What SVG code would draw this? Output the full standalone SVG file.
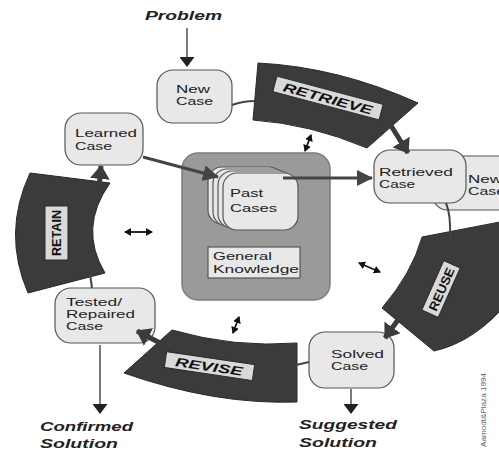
<svg xmlns="http://www.w3.org/2000/svg" width="499" height="450" viewBox="0 0 499 450">
<defs>
<style>
.band{fill:#3b3b3b;stroke:#2a2a2a;stroke-width:1}
.lbl{fill:#d9d9d9;stroke:#2a2a2a;stroke-width:1}
.lt{font-family:"Liberation Sans",Arial,sans-serif;font-weight:bold;font-size:12.5px;fill:#111}
.node{fill:#e8e8e8;stroke:#555;stroke-width:1.2}
.nt{font-family:"Liberation Sans",Arial,sans-serif;font-size:10.5px;fill:#222}
.out{font-family:"Liberation Sans",Arial,sans-serif;font-weight:bold;font-style:italic;font-size:13px;fill:#222}
.thin{stroke:#333;stroke-width:1.3;fill:none}
.thick{stroke:#444;stroke-width:3;fill:none}
.barr{stroke:#3b3b3b;stroke-width:5;fill:none}
.conn{stroke:#444;stroke-width:2;fill:none}
.dbl{stroke:#111;stroke-width:1.8;fill:none}
</style>
<marker id="oh" markerUnits="userSpaceOnUse" markerWidth="10" markerHeight="15" refX="9" refY="7.5" orient="auto"><path d="M0,0 L10,7.5 L0,15 z" fill="#222"/></marker>
<marker id="th" markerUnits="userSpaceOnUse" markerWidth="16" markerHeight="16" refX="15" refY="8" orient="auto"><path d="M0,0 L16,8 L0,16 z" fill="#444"/></marker>
<marker id="bh" markerUnits="userSpaceOnUse" markerWidth="14" markerHeight="20" refX="13" refY="10" orient="auto"><path d="M0,0 L14,10 L0,20 z" fill="#3b3b3b"/></marker>
<marker id="sh" markerUnits="userSpaceOnUse" markerWidth="7" markerHeight="8" refX="6" refY="4" orient="auto-start-reverse"><path d="M0,0 L7,4 L0,8 z" fill="#111"/></marker>
</defs>
<rect width="499" height="450" fill="#fff"/>

<g id="retrieve">
<path class="band" d="M258,63 Q338,67 418,103 L367,148 Q310,124 253,120 Z"/>
<rect class="lbl" x="273" y="90" width="110" height="16" transform="rotate(15 328 98)"/>
<text class="lt" font-style="italic" x="282" y="103" textLength="92" lengthAdjust="spacingAndGlyphs" transform="rotate(15 328 98)">RETRIEVE</text>
</g>
<g id="reuse">
<path class="band" d="M422,237 L510,220 L510,300 Q475,342 434,351 L382,308 Q412,273 422,237 Z"/>
<rect class="lbl" x="414" y="280" width="54" height="18" transform="rotate(-66 441 289)"/>
<text class="lt" x="418" y="294" textLength="46" lengthAdjust="spacingAndGlyphs" transform="rotate(-66 441 289)">REUSE</text>
</g>
<g id="revise">
<path class="band" d="M172,330 Q234,348 297,343 L297,402 Q215,405 124,373 Z"/>
<rect class="lbl" x="165" y="358" width="89" height="16" transform="rotate(8.4 209 366)"/>
<text class="lt" font-style="italic" x="175" y="371" textLength="68" lengthAdjust="spacingAndGlyphs" transform="rotate(8.4 209 366)">REVISE</text>
</g>
<g id="retain">
<path class="band" d="M30,173 L110,183 Q78,228 105,273 L28,293 Q2,233 30,173 Z"/>
<rect class="lbl" x="45" y="206" width="23" height="54"/>
<text class="lt" x="61" y="256" textLength="46" lengthAdjust="spacingAndGlyphs" transform="rotate(-90 61 256)">RETAIN</text>
</g>

<g id="center">
<rect x="182" y="153" width="148" height="147" rx="16" fill="#9a9a9a" stroke="#7c7c7c" stroke-width="1.5"/>
<rect class="node" x="208" y="167" width="75" height="57" rx="14"/>
<rect class="node" x="213" y="169" width="75" height="57" rx="14"/>
<rect class="node" x="218" y="171" width="75" height="57" rx="14"/>
<rect class="node" x="223" y="173" width="75" height="57" rx="14"/>
<text class="nt" x="230" y="197" textLength="33" lengthAdjust="spacingAndGlyphs">Past</text>
<text class="nt" x="230" y="212" textLength="47" lengthAdjust="spacingAndGlyphs">Cases</text>
<rect class="node" x="208" y="247" width="92" height="31"/>
<text class="nt" x="213" y="260" textLength="59" lengthAdjust="spacingAndGlyphs">General</text>
<text class="nt" x="213" y="273" textLength="86" lengthAdjust="spacingAndGlyphs">Knowledge</text>
</g>

<g id="new-case">
<rect class="node" x="157" y="70" width="75" height="53" rx="16"/>
<text class="nt" x="176" y="93" textLength="34" lengthAdjust="spacingAndGlyphs">New</text>
<text class="nt" x="176" y="105" textLength="37" lengthAdjust="spacingAndGlyphs">Case</text>
</g>
<g id="learned-case">
<rect class="node" x="65" y="113" width="78" height="52" rx="16"/>
<text class="nt" x="75" y="137" textLength="62" lengthAdjust="spacingAndGlyphs">Learned</text>
<text class="nt" x="75" y="150" textLength="37" lengthAdjust="spacingAndGlyphs">Case</text>
</g>
<g id="new-case-2">
<rect class="node" x="432" y="156" width="90" height="54" rx="16"/>
<text class="nt" x="468" y="183" textLength="34" lengthAdjust="spacingAndGlyphs">New</text>
<text class="nt" x="468" y="195" textLength="37" lengthAdjust="spacingAndGlyphs">Case</text>
</g>
<g id="retrieved-case">
<rect class="node" x="374" y="150" width="92" height="53" rx="16"/>
<text class="nt" x="379" y="176" textLength="74" lengthAdjust="spacingAndGlyphs">Retrieved</text>
<text class="nt" x="379" y="188" textLength="36" lengthAdjust="spacingAndGlyphs">Case</text>
</g>
<g id="tested-case">
<rect class="node" x="55" y="288" width="100" height="55" rx="16"/>
<text class="nt" x="66" y="306" textLength="56" lengthAdjust="spacingAndGlyphs">Tested/</text>
<text class="nt" x="66" y="318" textLength="69" lengthAdjust="spacingAndGlyphs">Repaired</text>
<text class="nt" x="66" y="330" textLength="37" lengthAdjust="spacingAndGlyphs">Case</text>
</g>
<g id="solved-case">
<rect class="node" x="309" y="332" width="85" height="56" rx="16"/>
<text class="nt" x="331" y="358" textLength="53" lengthAdjust="spacingAndGlyphs">Solved</text>
<text class="nt" x="331" y="370" textLength="37" lengthAdjust="spacingAndGlyphs">Case</text>
</g>

<g id="outputs">
<text class="out" x="145" y="20" textLength="77" lengthAdjust="spacingAndGlyphs">Problem</text>
<text class="out" x="40" y="431" textLength="93" lengthAdjust="spacingAndGlyphs">Confirmed</text>
<text class="out" x="40" y="448" textLength="78" lengthAdjust="spacingAndGlyphs">Solution</text>
<text class="out" x="299" y="429" textLength="98" lengthAdjust="spacingAndGlyphs">Suggested</text>
<text class="out" x="299" y="447" textLength="78" lengthAdjust="spacingAndGlyphs">Solution</text>
<text x="0" y="0" font-family="'Liberation Sans',Arial,sans-serif" font-size="7" fill="#666" textLength="74" lengthAdjust="spacingAndGlyphs" transform="translate(486 447) rotate(-90)">Aamodt&amp;Plaza 1994</text>
</g>

<g id="connectors">
<path class="thin" d="M187,28 L187,66" marker-end="url(#oh)"/>
<path class="thin" d="M100,345 L100,413" marker-end="url(#oh)"/>
<path class="thin" d="M351,389 L351,413" marker-end="url(#oh)"/>
<path class="thick" d="M143,157 L218,177" marker-end="url(#th)"/>
<path class="thick" d="M283,178 L372,178" marker-end="url(#th)"/>
<path class="conn" d="M232,105 Q243,101 255,101"/>
<path class="conn" d="M446,203 Q451,215 450,237"/>
<path class="conn" d="M309,362 L296,365"/>
<path class="conn" d="M92,288 L90,274"/>
<path class="barr" d="M390,124 L408,153" marker-end="url(#bh)"/>
<path class="barr" d="M400,317 L385,338" marker-end="url(#bh)"/>
<path class="barr" d="M162,344 L137,331" marker-end="url(#bh)"/>
<path class="barr" d="M99,188 L101,166" marker-end="url(#bh)"/>
<path class="dbl" d="M125,232 L152,232" marker-start="url(#sh)" marker-end="url(#sh)"/>
<path class="dbl" d="M311,135 L305,151" marker-start="url(#sh)" marker-end="url(#sh)"/>
<path class="dbl" d="M359,263 L380,272" marker-start="url(#sh)" marker-end="url(#sh)"/>
<path class="dbl" d="M239,317 L233,333" marker-start="url(#sh)" marker-end="url(#sh)"/>
</g>
</svg>
